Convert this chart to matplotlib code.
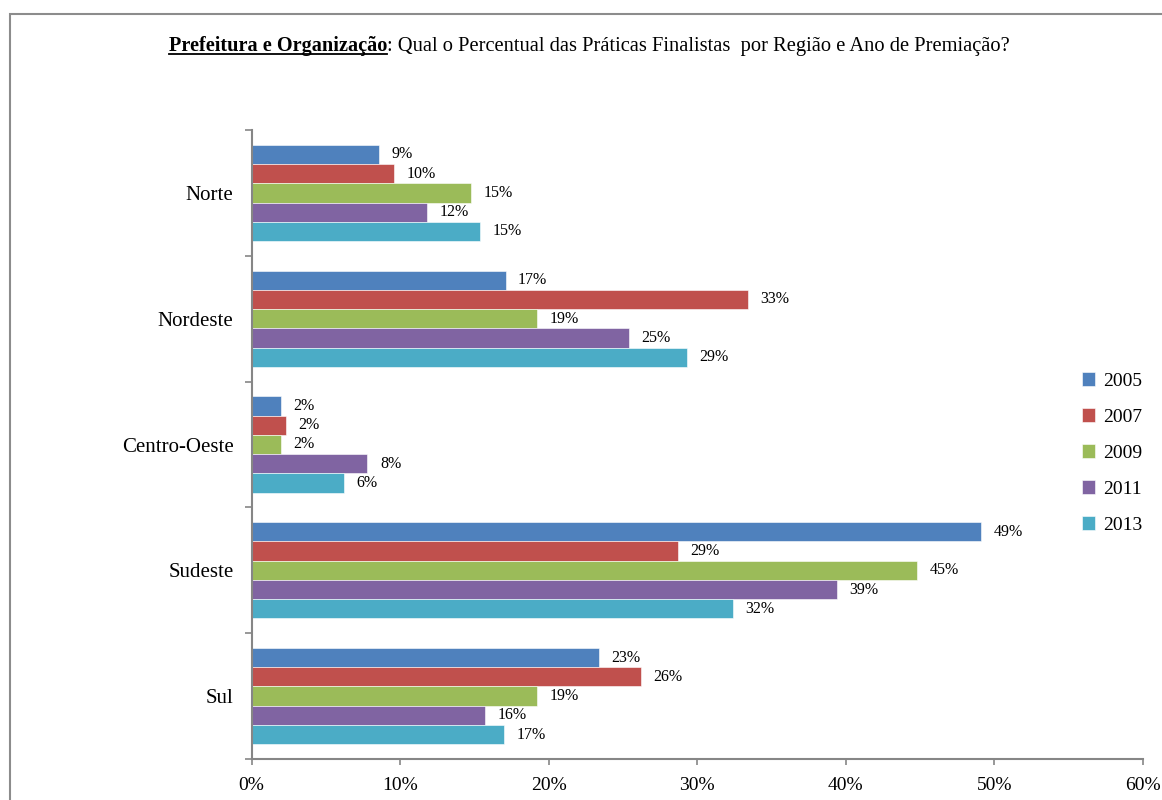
import matplotlib
matplotlib.use("Agg")
import matplotlib.pyplot as plt
from matplotlib.lines import Line2D
from matplotlib.patches import Rectangle
import numpy as np

plt.rcParams['font.family'] = ['Liberation Serif', 'DejaVu Serif']

regions = ['Norte', 'Nordeste', 'Centro-Oeste', 'Sudeste', 'Sul']
years = ['2005', '2007', '2009', '2011', '2013']

# share of finalist practices per region, one list per award year
pct_2005 = [0.086, 0.171, 0.020, 0.491, 0.234]
pct_2007 = [0.096, 0.334, 0.023, 0.287, 0.262]
pct_2009 = [0.148, 0.192, 0.020, 0.448, 0.192]
pct_2011 = [0.118, 0.254, 0.078, 0.394, 0.157]
pct_2013 = [0.154, 0.293, 0.062, 0.324, 0.170]
series = [pct_2005, pct_2007, pct_2009, pct_2011, pct_2013]

colors = ['#4F81BD', '#C0504D', '#9BBB59', '#8064A2', '#4BACC6']
axis_grey = '#868686'

W, H = 1162, 800
fig = plt.figure(figsize=(W / 100, H / 100), dpi=100)
ax = fig.add_axes([251.5 / W, 41 / H, (1143 - 251.5) / W, (759 - 130) / H])

bar_h = 0.153
y = np.arange(len(regions))
for j, (vals, col, yr) in enumerate(zip(series, colors, years)):
    pos = y + (j - 2) * bar_h
    bars = ax.barh(pos, vals, height=bar_h, color=col, edgecolor='white',
                   linewidth=0.4, label=yr)
    for b, v in zip(bars, vals):
        ax.annotate(f"{v:.0%}", (b.get_width(), b.get_y() + b.get_height() / 2),
                    xytext=(9, 0), textcoords='offset points',
                    va='center', ha='left', fontsize=11.5)

ax.set_ylim(len(regions) - 0.5, -0.5)
ax.set_xlim(0, 0.6)
ax.set_xticks(np.arange(0, 0.61, 0.1))
ax.set_xticklabels([f"{int(round(t * 100))}%" for t in np.arange(0, 0.61, 0.1)])

ax.set_yticks(y)
ax.set_yticklabels(regions, fontsize=15)
ax.set_yticks(np.arange(-0.5, len(regions), 1), minor=True)
ax.tick_params(axis='y', which='major', length=0, pad=13)
ax.tick_params(axis='y', which='minor', length=5, width=1.2, color=axis_grey, direction='out')
ax.tick_params(axis='x', length=4, width=1.2, color=axis_grey, labelsize=14, pad=9)

for side in ['top', 'right']:
    ax.spines[side].set_visible(False)
for side in ['left', 'bottom']:
    ax.spines[side].set_color(axis_grey)
    ax.spines[side].set_linewidth(1.5)

fig.legend(loc='center left', bbox_to_anchor=(1064 / W, 1 - 453 / H),
           frameon=False, fontsize=14, handlelength=0.7, handleheight=0.7,
           handletextpad=0.4, labelspacing=0.95)

# outer chart border
fig.add_artist(Rectangle((10 / W, -0.1), 1.2, 1.1 - 14 / H, transform=fig.transFigure,
                         fill=False, edgecolor='#8c8c8c', linewidth=1.5))

# title: bold underlined subject followed by the question
base_y = 1 - 51 / H
t1 = fig.text(169 / W, base_y, "Prefeitura e Organização", fontsize=14.6,
              fontweight='bold', va='baseline', ha='left')
fig.canvas.draw()
r = fig.canvas.get_renderer()
bb = t1.get_window_extent(renderer=r)
fig.text(bb.x1 / W, base_y, ": Qual o Percentual das Práticas Finalistas  por Região e Ano de Premiação?",
         fontsize=14.8, va='baseline', ha='left')
ul_y = base_y - 3 / H
fig.add_artist(Line2D([bb.x0 / W, bb.x1 / W], [ul_y, ul_y], transform=fig.transFigure,
                      color='black', linewidth=1.3))

fig.savefig('out.png', dpi=100)
